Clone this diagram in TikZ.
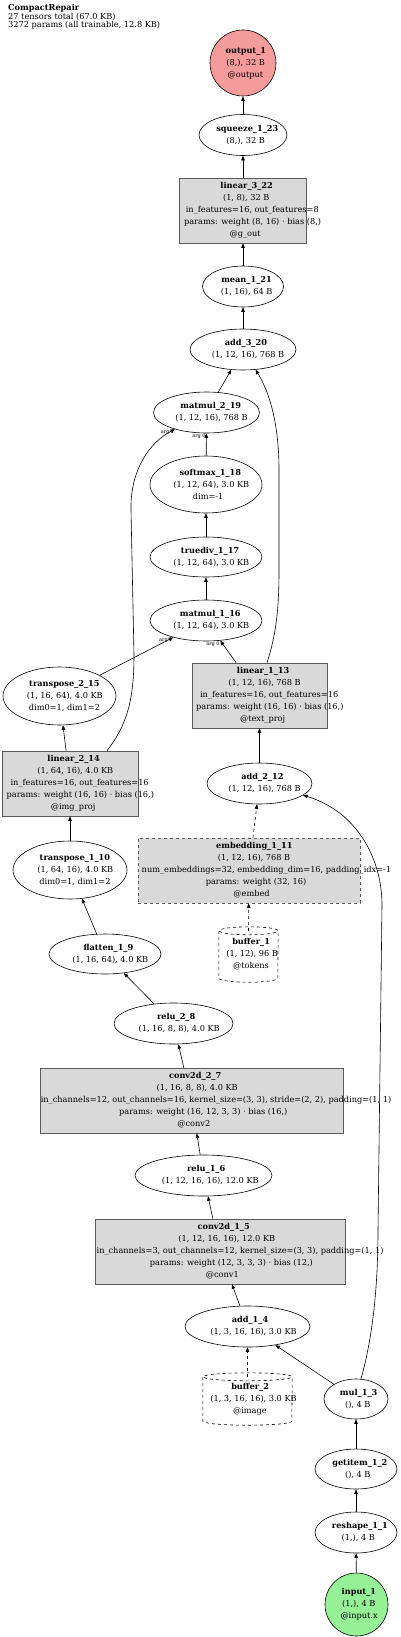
\documentclass[tikz,border=0pt]{standalone}
\usepackage{fontspec}
\setmainfont{DejaVu Serif}
\usetikzlibrary{shapes.geometric,arrows.meta,positioning}
\definecolor{outred}{RGB}{245,155,155}
\definecolor{ingreen}{RGB}{150,240,150}
\definecolor{modgray}{RGB}{217,217,217}
\definecolor{modedge}{RGB}{90,90,90}
\newlength\gvw
\newcommand\gl[1]{\settowidth\gvw{#1}\makebox[0pt][l]{\hspace{-0.43\gvw}#1}}
\newcommand\nm[1]{\gl{\textbf{#1}}}
% dashed cylinder round a buffer node: name, x radius
\newcommand\cyl[2]{\draw[dashed, line width=0.6pt] ([yshift=-4pt]#1.north west) -- ([yshift=4pt]#1.south west)
  arc[start angle=180, end angle=360, x radius=#2pt, y radius=4pt] -- ([yshift=-4pt]#1.north east)
  arc[start angle=0, end angle=360, x radius=#2pt, y radius=4pt];}
\begin{document}
\begin{tikzpicture}[x=1pt, y=-1pt, >={Triangle[length=4.5pt, width=3.5pt]},
  font=\fontsize{8.2}{12}\selectfont,
  op/.style={ellipse, draw, line width=0.6pt, inner sep=0pt, align=center},
  mod/.style={rectangle, draw=modedge, fill=modgray, line width=0.6pt, inner sep=0pt, align=center},
  buf/.style={rectangle, inner sep=0pt, align=center},
  sz/.style 2 args={minimum width=#1pt, minimum height=#2pt},
  flow/.style={->, line width=0.6pt},
  argl/.style={font=\fontsize{5}{5}\selectfont, inner sep=0.4pt}]
	\useasboundingbox (0,0) rectangle (400,1637);
	\node[anchor=north west, align=left, inner sep=0pt, font=\fontsize{8.2}{8.6}\selectfont] (title) at (8,4)
	  {\textbf{CompactRepair}\\27 tensors total (67.0 KB)\\3272 params (all trainable, 12.8 KB)};
	% output side
	\node[op, circle, fill=outred, minimum size=66pt] (out) at (243,63) {\nm{output\_1}\\\gl{(8,), 32 B}\\\gl{@output}};
	\node[op, sz={88}{41}] (sq) at (243,135) {\nm{squeeze\_1\_23}\\\gl{(8,), 32 B}};
	\node[mod, sz={127}{65}] (lin3) at (243,210.5) {\nm{linear\_3\_22}\\\gl{(1, 8), 32 B}\\\gl{in\_features=16, out\_features=8}\\\gl{params: weight (8, 16) · bias (8,)}\\\gl{@g\_out}};
	\node[op, sz={81}{41}] (mean) at (243,286.5) {\nm{mean\_1\_21}\\\gl{(1, 16), 64 B}};
	\node[op, sz={106}{41}] (add3) at (243,349.5) {\nm{add\_3\_20}\\\gl{(1, 12, 16), 768 B}};
	% attention
	\node[op, sz={106}{41}] (mm2) at (206.5,412.5) {\nm{matmul\_2\_19}\\\gl{(1, 12, 16), 768 B}};
	\node[op, sz={112}{57}] (sm) at (206,484.5) {\nm{softmax\_1\_18}\\\gl{(1, 12, 64), 3.0 KB}\\\gl{dim=-1}};
	\node[op, sz={112}{40}] (div) at (206,557) {\nm{truediv\_1\_17}\\\gl{(1, 12, 64), 3.0 KB}};
	\node[op, sz={112}{41}] (mm1) at (206,620.5) {\nm{matmul\_1\_16}\\\gl{(1, 12, 64), 3.0 KB}};
	\node[op, sz={113}{58}] (tr2) at (59.5,696) {\nm{transpose\_2\_15}\\\gl{(1, 16, 64), 4.0 KB}\\\gl{dim0=1, dim1=2}};
	\node[mod, sz={135}{65}] (lin1) at (259.5,695.5) {\nm{linear\_1\_13}\\\gl{(1, 12, 16), 768 B}\\\gl{in\_features=16, out\_features=16}\\\gl{params: weight (16, 16) · bias (16,)}\\\gl{@text\_proj}};
	\node[mod, sz={136}{65}] (lin2) at (70,783.5) {\nm{linear\_2\_14}\\\gl{(1, 64, 16), 4.0 KB}\\\gl{in\_features=16, out\_features=16}\\\gl{params: weight (16, 16) · bias (16,)}\\\gl{@img\_proj}};
	\node[op, sz={105}{41}] (add2) at (259.5,783.5) {\nm{add\_2\_12}\\\gl{(1, 12, 16), 768 B}};
	% text branch
	\node[mod, dashed, sz={222}{65}] (emb) at (249,870.5) {\nm{embedding\_1\_11}\\\gl{(1, 12, 16), 768 B}\\\gl{num\_embeddings=32, embedding\_dim=16, padding\_idx=-1}\\\gl{params: weight (32, 16)}\\\gl{@embed}};
	\node[buf, sz={59}{55}] (buf1) at (248.5,954.5) {\nm{buffer\_1}\\\gl{(1, 12), 96 B}\\\gl{@tokens}};
	\cyl{buf1}{29.5}
	% image branch
	\node[op, sz={114}{58}] (tr1) at (70,870) {\nm{transpose\_1\_10}\\\gl{(1, 64, 16), 4.0 KB}\\\gl{dim0=1, dim1=2}};
	\node[op, sz={112}{40}] (flat) at (105,954) {\nm{flatten\_1\_9}\\\gl{(1, 16, 64), 4.0 KB}};
	\node[op, sz={119}{41}] (relu2) at (173.5,1023.5) {\nm{relu\_2\_8}\\\gl{(1, 16, 8, 8), 4.0 KB}};
	\node[mod, sz={303}{65}] (conv2) at (191.5,1100.5) {\nm{conv2d\_2\_7}\\\gl{(1, 16, 8, 8), 4.0 KB}\\\gl{in\_channels=12, out\_channels=16, kernel\_size=(3, 3), stride=(2, 2), padding=(1, 1)}\\\gl{params: weight (16, 12, 3, 3) · bias (16,)}\\\gl{@conv2}};
	\node[op, sz={137}{41}] (relu1) at (203.5,1175.5) {\nm{relu\_1\_6}\\\gl{(1, 12, 16, 16), 12.0 KB}};
	\node[mod, sz={250}{65}] (conv1) at (220,1251.5) {\nm{conv2d\_1\_5}\\\gl{(1, 12, 16, 16), 12.0 KB}\\\gl{in\_channels=3, out\_channels=12, kernel\_size=(3, 3), padding=(1, 1)}\\\gl{params: weight (12, 3, 3, 3) · bias (12,)}\\\gl{@conv1}};
	\node[op, sz={125}{41}] (add1) at (247.5,1326.5) {\nm{add\_1\_4}\\\gl{(1, 3, 16, 16), 3.0 KB}};
	\node[buf, sz={89}{52}] (buf2) at (247.5,1399) {\nm{buffer\_2}\\\gl{(1, 3, 16, 16), 3.0 KB}\\\gl{@image}};
	\cyl{buf2}{44.5}
	% input side
	\node[op, sz={64}{40}] (mul) at (356,1399) {\nm{mul\_1\_3}\\\gl{(), 4 B}};
	\node[op, sz={82}{40}] (get) at (356,1469) {\nm{getitem\_1\_2}\\\gl{(), 4 B}};
	\node[op, sz={82}{41}] (resh) at (356,1532.5) {\nm{reshape\_1\_1}\\\gl{(1,), 4 B}};
	\node[op, circle, fill=ingreen, minimum size=63pt] (in) at (356.5,1604.5) {\nm{input\_1}\\\gl{(1,), 4 B}\\\gl{@input.x}};
	% edges
	\draw[flow] (in) -- (resh);
	\draw[flow] (resh) -- (get);
	\draw[flow] (get) -- (mul);
	\draw[flow] (mul) -- (add1);
	\draw[flow, dashed] ([yshift=-4pt]buf2.north) -- (add1);
	\draw[flow] (add1) -- (conv1);
	\draw[flow] (conv1) -- (relu1);
	\draw[flow] (relu1) -- (conv2);
	\draw[flow] (conv2) -- (relu2);
	\draw[flow] (relu2) -- (flat);
	\draw[flow] (flat) -- (tr1);
	\draw[flow] (tr1) -- (lin2);
	\draw[flow] (lin2) -- (tr2);
	\draw[flow, dashed] ([yshift=-4pt]buf1.north) -- (emb);
	\draw[flow, dashed] (emb) -- (add2);
	\draw[flow] ([xshift=5pt]mul.north) .. controls (372,1340) and (378,1290) .. (378,1230)
	  -- (382,905) .. controls (382,860) and (358,812) .. (add2.-15);
	\draw[flow] (add2) -- (lin1);
	\draw[flow] (tr2) -- node[argl, pos=1, below left] {arg 1} (mm1);
	\draw[flow] (lin1) -- node[argl, pos=1, below left] {arg 0} (mm1);
	\draw[flow] (mm1) -- (div);
	\draw[flow] (div) -- (sm);
	\draw[flow] (sm) -- node[argl, pos=1, below left] {arg 0} (mm2);
	\draw[flow] ([xshift=37pt]lin2.north) .. controls (127,725) and (134,700) .. (134,655)
	  -- (131,510) .. controls (130,470) and (150,442) .. node[argl, pos=1, below left] {arg 1} (mm2.208);
	\draw[flow] ([xshift=7.5pt]lin1.north) .. controls (276,635) and (279,610) .. (279,570)
	  -- (279,470) .. controls (279,420) and (268,390) .. (add3.-58);
	\draw[flow] (mm2) -- (add3);
	\draw[flow] (add3) -- (mean);
	\draw[flow] (mean) -- (lin3);
	\draw[flow] (lin3) -- (sq);
	\draw[flow] (sq) -- (out);
\end{tikzpicture}
\end{document}
